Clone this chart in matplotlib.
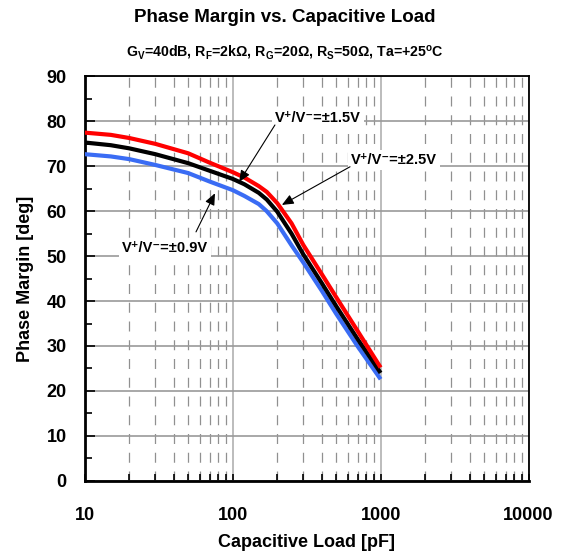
import matplotlib
matplotlib.use("Agg")
import matplotlib.pyplot as plt
from matplotlib.ticker import FixedLocator, NullFormatter

plt.rcParams["font.family"] = ["Liberation Sans", "DejaVu Sans"]
plt.rcParams["font.weight"] = "bold"
plt.rcParams["mathtext.fontset"] = "custom"
plt.rcParams["mathtext.bf"] = "Liberation Sans:bold"
plt.rcParams["mathtext.rm"] = "Liberation Sans:bold"
plt.rcParams["mathtext.default"] = "bf"

# capacitive load [pF]
cap_load = [10, 15, 20, 30, 50, 70, 100, 120, 150, 170, 200, 250, 300, 400, 500, 700, 1000]
# phase margin [deg] per supply voltage
pm_2v5 = [77.5, 77.0, 76.3, 75.0, 72.9, 70.8, 68.7, 67.5, 65.6, 64.3, 61.8, 57.3, 52.5,
          46.0, 40.9, 33.3, 25.2]
pm_1v5 = [75.3, 74.7, 74.0, 72.7, 70.7, 69.0, 67.2, 66.0, 64.1, 62.6, 59.9, 55.0, 50.4,
          44.0, 38.9, 31.5, 24.0]
pm_0v9 = [72.7, 72.2, 71.6, 70.3, 68.5, 66.6, 64.7, 63.4, 61.6, 60.0, 57.3, 52.4, 48.6,
          42.3, 37.2, 29.9, 22.6]

x_ticks = [10, 100, 1000, 10000]
x_tick_labels = ["10", "100", "1000", "10000"]
y_ticks = list(range(0, 91, 10))

fig = plt.figure(figsize=(5.69, 5.59), dpi=100)
ax = fig.add_axes([0.1489, 0.140, 0.7801, 0.7232])

line_kw = dict(lw=3.0, solid_capstyle="butt", solid_joinstyle="round")
ax.plot(cap_load, pm_0v9, color="#3a6cf4", zorder=3, **line_kw)
ax.plot(cap_load, pm_1v5, color="black", zorder=4, **line_kw)
ax.plot(cap_load, pm_2v5, color="#ff0000", zorder=5, **line_kw)

ax.set_xscale("log")
ax.set_xlim(10, 10000)
ax.set_ylim(0, 90)
ax.set_xticks(x_ticks)
ax.set_xticklabels(x_tick_labels)
minor_x = [m * d for d in (10, 100, 1000) for m in range(2, 10)]
ax.xaxis.set_minor_locator(FixedLocator(minor_x))
ax.xaxis.set_minor_formatter(NullFormatter())
ax.set_yticks(y_ticks)
ax.yaxis.set_minor_locator(FixedLocator(list(range(5, 90, 10))))

ax.grid(which="major", axis="y", color="#999999", lw=1.2, zorder=1)
ax.grid(which="major", axis="x", color="#b0b0b0", lw=1.2, zorder=1)
ax.grid(which="minor", axis="x", color="#909090", lw=0.9, ls=(0, (8, 7)), zorder=1)
ax.set_axisbelow(True)

ax.tick_params(axis="both", which="both", direction="in", width=1.2, labelsize=13)
ax.tick_params(axis="y", which="major", length=7, pad=13)
ax.tick_params(axis="y", which="minor", length=5)
ax.tick_params(axis="x", which="both", length=5, pad=19)

for side in ("left", "bottom"):
    ax.spines[side].set_linewidth(2.0)
for side in ("top", "right"):
    ax.spines[side].set_linewidth(1.3)

ax.set_xlabel("Capacitive Load [pF]", fontsize=13, fontweight="bold", labelpad=7)
ax.set_ylabel("Phase Margin [deg]", fontsize=13, fontweight="bold", labelpad=9)

fig.text(0.5, 0.968, "Phase Margin vs. Capacitive Load", ha="center", va="center",
         fontsize=13.5, fontweight="bold")
fig.text(0.5, 0.906,
         "G$_V$=40dB, R$_F$=2kΩ, R$_G$=20Ω, R$_S$=50Ω, Ta=+25$^o$C",
         ha="center", va="center", fontsize=10.2, fontweight="bold")

box = dict(facecolor="white", edgecolor="none", pad=2)
arrow = dict(arrowstyle="-|>,head_length=0.7,head_width=0.3", color="black",
             lw=0.8, shrinkA=0, shrinkB=0)

ax.text(377, 80.8, "V⁺/V⁻=±1.5V", ha="center", va="center", fontsize=10.5,
        bbox=box, zorder=6)
ax.annotate("", xy=(110.5, 66.5), xytext=(193, 79.2), arrowprops=arrow, zorder=7)

ax.text(1233, 71.4, "V⁺/V⁻=±2.5V", ha="center", va="center", fontsize=10.5,
        bbox=box, zorder=6)
ax.annotate("", xy=(215, 61.4), xytext=(621, 69.9), arrowprops=arrow, zorder=7)

ax.text(34.9, 51.8, "V⁺/V⁻=±0.9V", ha="center", va="center", fontsize=10.5,
        bbox=box, zorder=6)
ax.annotate("", xy=(75.9, 64.0), xytext=(56.5, 55.4), arrowprops=arrow, zorder=7)

fig.savefig("out.png", dpi=100)
